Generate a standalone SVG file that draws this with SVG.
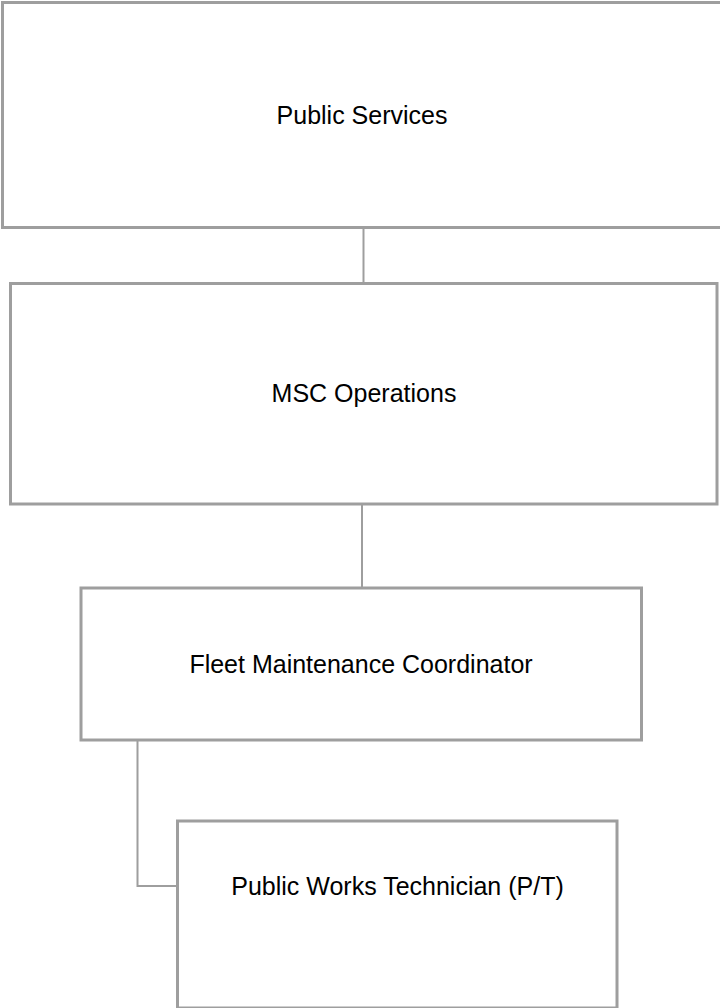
<svg xmlns="http://www.w3.org/2000/svg" width="720" height="1008" viewBox="0 0 720 1008">
<style>
.box{fill:#ffffff;stroke:#9e9e9e;stroke-width:3}
.lbl{font-family:"Liberation Sans",Arial,sans-serif;font-size:25px;fill:#000000;text-anchor:middle;dominant-baseline:central}
.conn{fill:none;stroke:#9e9e9e;stroke-width:2}
</style>
<rect width="720" height="1008" fill="#ffffff"/>
<g id="connectors">
<line class="conn" x1="363.5" y1="228" x2="363.5" y2="283"/>
<line class="conn" x1="362" y1="504" x2="362" y2="588"/>
<polyline class="conn" points="137.5,740 137.5,886 177.5,886"/>
</g>
<g id="node-public-services">
<rect class="box" x="2.5" y="2.5" width="720" height="225"/>
<text class="lbl" x="362" y="115">Public Services</text>
</g>
<g id="node-msc-operations">
<rect class="box" x="10.5" y="283.5" width="706.5" height="220.5"/>
<text class="lbl" x="364" y="393">MSC Operations</text>
</g>
<g id="node-fleet-maintenance">
<rect class="box" x="81" y="588" width="560.5" height="152"/>
<text class="lbl" x="361" y="664">Fleet Maintenance Coordinator</text>
</g>
<g id="node-public-works-tech">
<rect class="box" x="177.5" y="821" width="439.5" height="187"/>
<text class="lbl" x="397.5" y="886">Public Works Technician (P/T)</text>
</g>
</svg>
